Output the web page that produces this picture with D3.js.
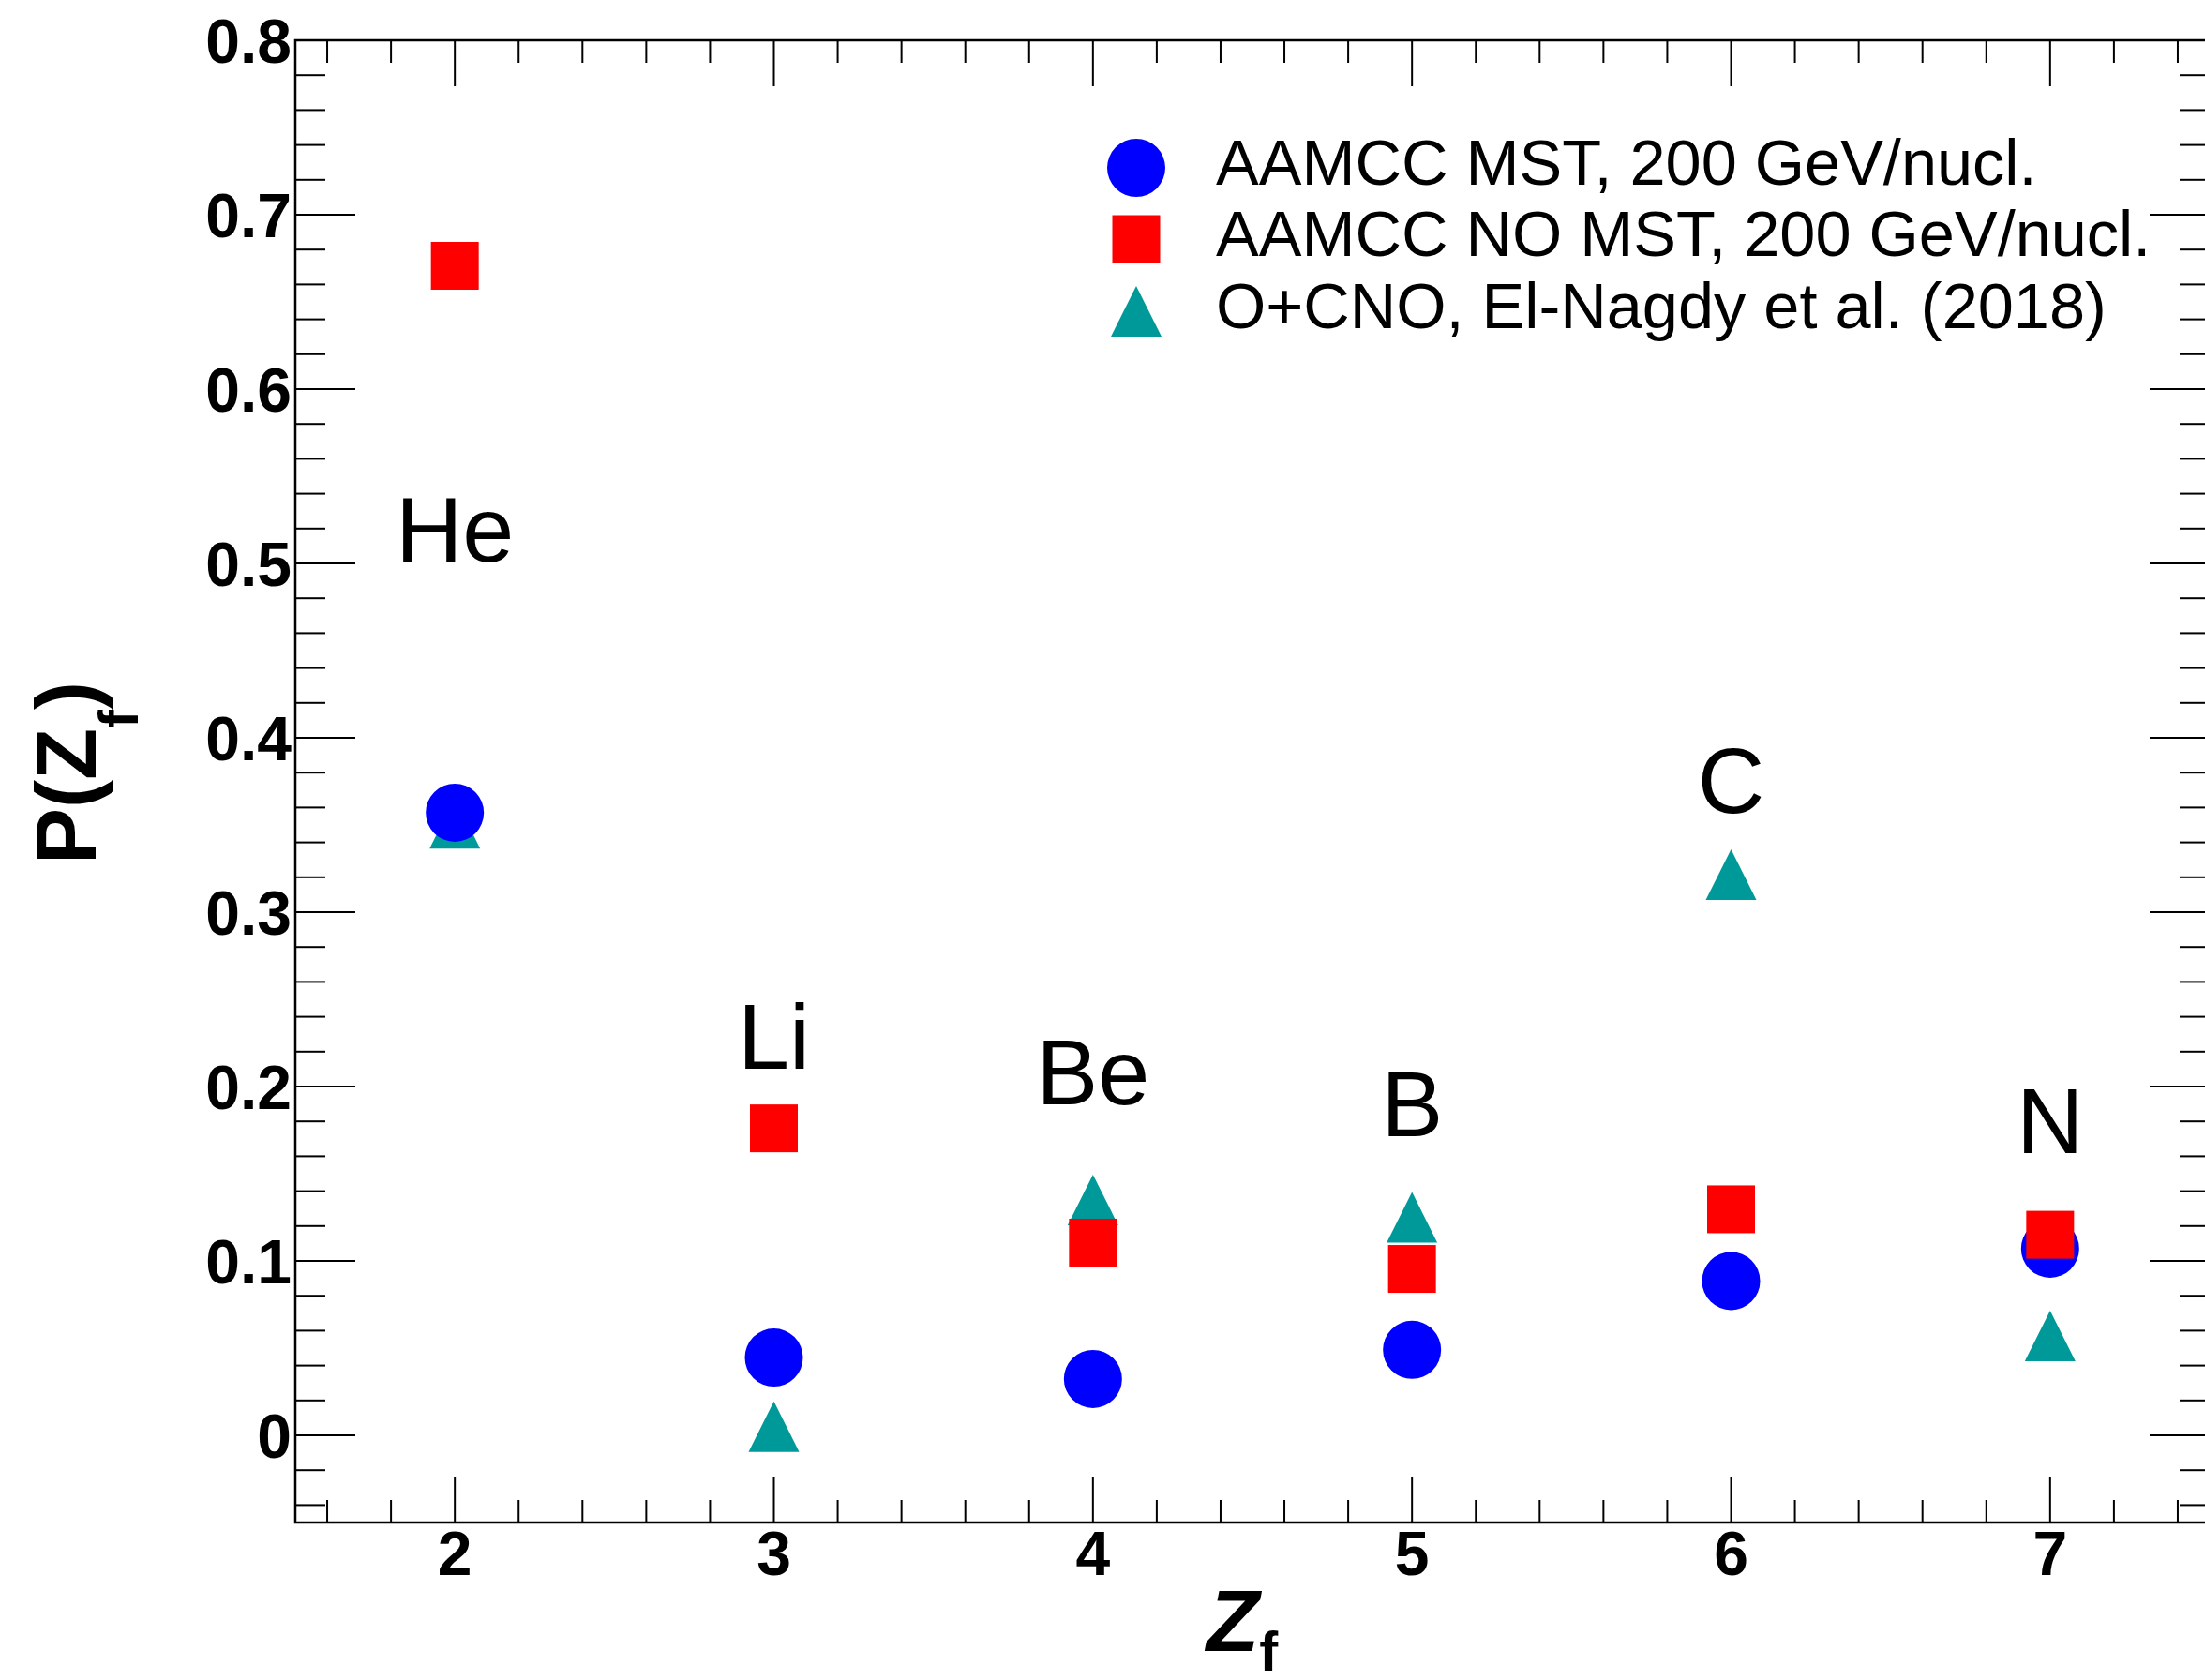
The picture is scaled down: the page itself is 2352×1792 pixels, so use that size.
<!DOCTYPE html>
<html>
<head>
<meta charset="utf-8">
<script src="https://cdn.jsdelivr.net/npm/d3@7"></script>
<style>
  html, body { margin: 0; padding: 0; background: #fff; }
  svg { display: block; }
  text { font-family: "Liberation Sans", Arial, Helvetica, sans-serif; }
</style>
</head>
<body>
<svg id="chart" width="2352" height="1792"></svg>
<script>
// ---- data ----
const zf = [2, 3, 4, 5, 6, 7];
const mstValues = [0.357, 0.0446, 0.0323, 0.049, 0.0885, 0.107];
const noMstValues = [0.6707, 0.176, 0.1105, 0.0954, 0.1296, 0.115];
const elNagdyValues = [0.351, 0.005, 0.135, 0.125, 0.3215, 0.057];
const elementNames = ["He", "Li", "Be", "B", "C", "N"];
const elementLabelY = [0.501, 0.21, 0.19, 0.1715, 0.357, 0.162];
const xTickLabels = ["2", "3", "4", "5", "6", "7"];
const yTickLabels = ["0", "0.1", "0.2", "0.3", "0.4", "0.5", "0.6", "0.7", "0.8"];
const seriesNames = ["AAMCC MST, 200 GeV/nucl.", "AAMCC NO MST, 200 GeV/nucl.", "O+CNO, El-Nagdy et al. (2018)"];

// ---- layout ----
const svg = d3.select("#chart");
const L = 315, R = 2357, T = 43, B = 1624;
const x = d3.scaleLinear().domain([1.5, 7.5]).range([L, R]);
const y = d3.scaleLinear().domain([-0.05, 0.8]).range([B, T]);

const blue = "#0000ff", red = "#ff0000", teal = "#009999";

// frame
svg.append("rect").attr("x", L).attr("y", T).attr("width", R - L).attr("height", B - T)
  .attr("fill", "none").attr("stroke", "#000").attr("stroke-width", 2.5);

// ticks
const g = svg.append("g").attr("stroke", "#000").attr("stroke-width", 2);
const yMajor = yTickLabels.map(Number);
const yMinor = d3.range(-2, 41).map(i => i * 0.02)
  .filter(v => v > -0.05 && !yMajor.some(m => Math.abs(m - v) < 1e-9));
const xMajor = xTickLabels.map(Number);
const xMinor = d3.range(8, 38).map(i => i * 0.2)
  .filter(v => v > 1.5 && v < 7.5 && !xMajor.some(m => Math.abs(m - v) < 1e-9));

function yTicks(vals, len) {
  vals.forEach(v => {
    const yy = y(v);
    g.append("line").attr("x1", L).attr("x2", L + len).attr("y1", yy).attr("y2", yy);
    g.append("line").attr("x1", R).attr("x2", R - len).attr("y1", yy).attr("y2", yy);
  });
}
function xTicks(vals, len) {
  vals.forEach(v => {
    const xx = x(v);
    g.append("line").attr("x1", xx).attr("x2", xx).attr("y1", B).attr("y2", B - len);
    g.append("line").attr("x1", xx).attr("x2", xx).attr("y1", T).attr("y2", T + len);
  });
}
yTicks(yMajor, 64); yTicks(yMinor, 32);
xTicks(xMajor, 49); xTicks(xMinor, 24);

// tick labels
yTickLabels.forEach(t => {
  svg.append("text").attr("x", L - 4).attr("y", y(+t) + 24)
    .attr("text-anchor", "end").attr("font-size", 66).attr("font-weight", "bold").text(t);
});
xTickLabels.forEach(t => {
  svg.append("text").attr("x", x(+t)).attr("y", 1680)
    .attr("text-anchor", "middle").attr("font-size", 66).attr("font-weight", "bold").text(t);
});

// axis titles
const xt = svg.append("text").attr("x", 1287).attr("y", 1761).attr("font-weight", "bold");
xt.append("tspan").attr("font-size", 92).attr("font-style", "italic").text("Z");
xt.append("tspan").attr("font-size", 60).attr("dy", 21).text("f");

const yt = svg.append("text").attr("transform", "translate(102,922) rotate(-90)").attr("font-weight", "bold");
yt.append("tspan").attr("font-size", 90).text("P(Z");
yt.append("tspan").attr("font-size", 60).attr("dy", 45).text("f");
yt.append("tspan").attr("font-size", 90).attr("dy", -45).text(")");

// element labels
elementNames.forEach((n, i) => {
  svg.append("text").attr("x", x(zf[i])).attr("y", y(elementLabelY[i]))
    .attr("text-anchor", "middle").attr("font-size", 99).text(n);
});

// markers
const triSize = 54, sqSize = 51, circR = 31;
function triPath(cx, cy) {
  const h = triSize / 2;
  return `M${cx - h},${cy + h}L${cx + h},${cy + h}L${cx},${cy - h}Z`;
}
svg.append("g").selectAll("path").data(zf).join("path")
  .attr("d", (d, i) => triPath(x(d), y(elNagdyValues[i]))).attr("fill", teal);
svg.append("g").selectAll("circle").data(zf).join("circle")
  .attr("cx", d => x(d)).attr("cy", (d, i) => y(mstValues[i])).attr("r", circR).attr("fill", blue);
svg.append("g").selectAll("rect").data(zf).join("rect")
  .attr("x", d => x(d) - sqSize / 2).attr("y", (d, i) => y(noMstValues[i]) - sqSize / 2)
  .attr("width", sqSize).attr("height", sqSize).attr("fill", red);

// legend
const legX = 1212, legTextX = 1297, legY = [179, 255, 332];
const lg = svg.append("g");
lg.append("circle").attr("cx", legX).attr("cy", legY[0]).attr("r", circR).attr("fill", blue);
lg.append("rect").attr("x", legX - sqSize / 2).attr("y", legY[1] - sqSize / 2)
  .attr("width", sqSize).attr("height", sqSize).attr("fill", red);
lg.append("path").attr("d", triPath(legX, legY[2])).attr("fill", teal);
seriesNames.forEach((s, i) => {
  lg.append("text").attr("x", legTextX).attr("y", legY[i] + 18).attr("font-size", 68.5).text(s);
});
</script>
</body>
</html>
